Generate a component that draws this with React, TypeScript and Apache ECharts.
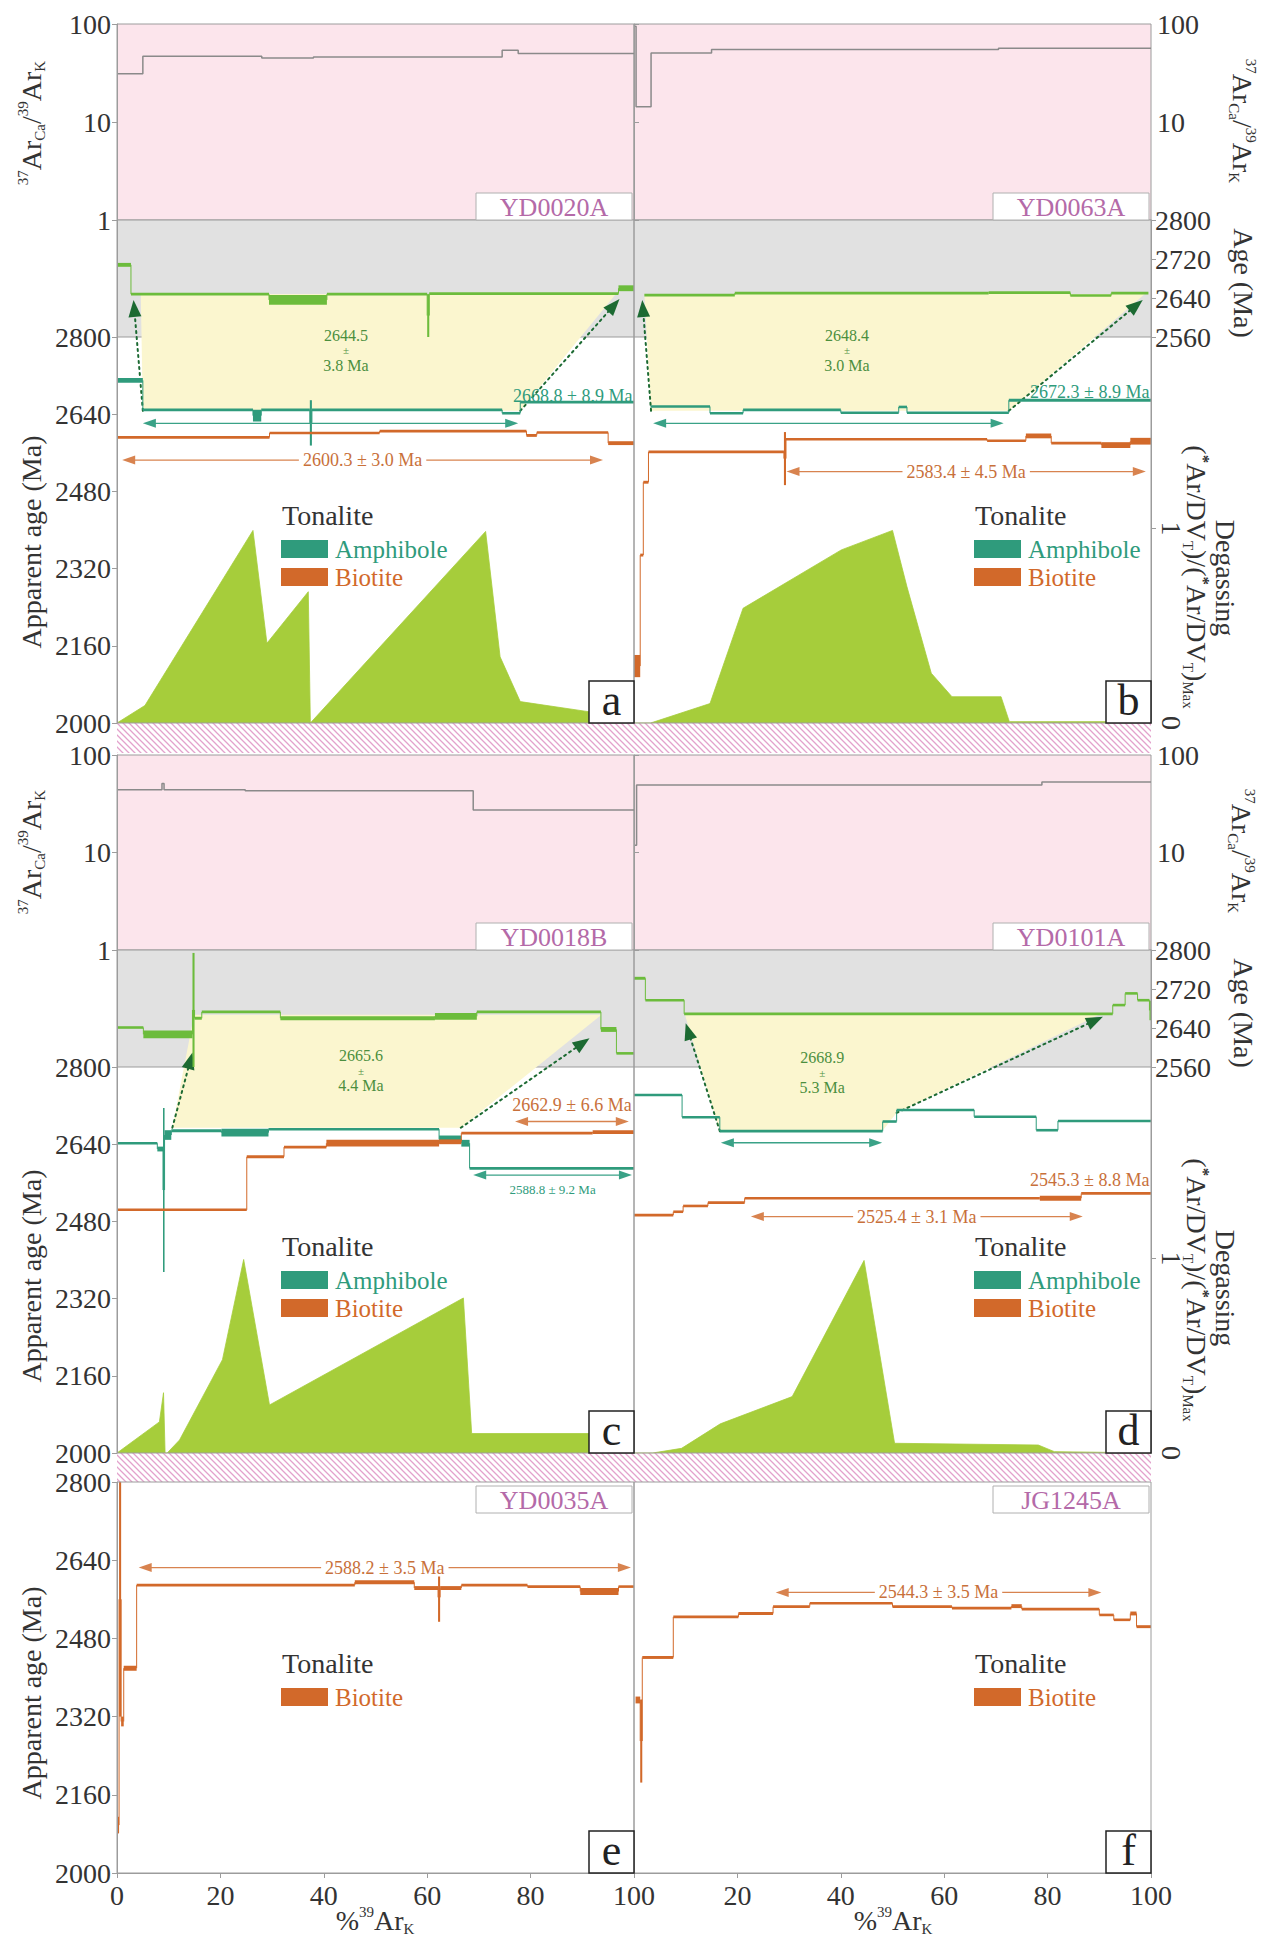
import React, { useEffect, useRef } from 'react';
import * as echarts from 'echarts';

// ---------------- DATA (x in %39ArK, ages in Ma) ----------------
// step arrays: [x0, x1, age, half-error]
const logA = [[0, 5, 31], [5, 28, 47], [28, 38, 45], [38, 74.5, 46], [74.5, 77.6, 54], [77.6, 100, 50]];
const insetA = [[0, 2.7, 2708, 4], [2.7, 29.4, 2648, 2], [29.4, 40.6, 2636, 10], [40.6, 60, 2648, 2], [60, 60.4, 2604, 44], [60.4, 97, 2649, 2], [97, 100, 2660, 6]];
const amphA = [[0, 5, 2710, 5], [5, 26.3, 2649, 2], [26.3, 27.9, 2637, 12], [27.9, 37.3, 2649, 2], [37.3, 37.7, 2622, 47], [37.7, 74.5, 2649, 2], [74.5, 78, 2642, 2], [78, 100, 2665, 3]];
const bioA = [[0, 29.5, 2592, 2], [29.5, 50.8, 2601, 2], [50.8, 79.2, 2605, 2], [79.2, 81.2, 2596, 3], [81.2, 95, 2602, 2], [95, 100, 2580, 4]];
const degA = [[0, 0], [5.4, 0.09], [26.3, 0.99], [29, 0.41], [37, 0.675], [37.4, 0], [71.3, 0.985], [74.1, 0.34], [78, 0.11], [91.5, 0.057], [100, 0.04]];
const arrowsA = [[5, 77.6, 2621, 'amph', '', ''], [1, 94, 2545, 'bio', '2600.3 ± 3.0 Ma', 'on']];
const labelsA = [[99.7, 2678, '2668.8 ± 8.9 Ma', 'amph']];
const plateauA = [44.3, 2773, '2644.5', '3.8 Ma'];
const trapTopA = [[4.6, 2648], [96.5, 2648]];
const trapBotA = [[78, 2647], [5, 2647]];
const trapTipA = [[3.2, 2636], [97.2, 2638]];

const logB = [[0, 0.4, 95], [0.4, 3.3, 14.3], [3.3, 15, 50.6], [15, 70.5, 55], [70.5, 100, 56.5]];
const insetB = [[2, 19.5, 2646, 2], [19.5, 68.6, 2650, 2], [68.6, 84.4, 2651, 2], [84.4, 92.3, 2645, 2], [92.3, 99.5, 2650, 2]];
const amphB = [[3.2, 14.7, 2656, 2], [14.7, 21.1, 2642, 2], [21.1, 40, 2649, 2], [40, 51.2, 2643, 2], [51.2, 52.8, 2655, 2], [52.8, 72.5, 2643, 2], [72.5, 100, 2669, 3]];
const bioB = [[0, 1.2, 2118, 23], [1.2, 1.8, 2348, 3], [1.8, 2.8, 2499, 3], [2.8, 29, 2562, 3], [29, 29.4, 2548, 55], [29.4, 68.3, 2588, 2], [68.3, 75.8, 2585, 2], [75.8, 80.7, 2595, 5], [80.7, 90.4, 2580, 2], [90.4, 96, 2576, 6], [96, 100, 2584, 7]];
const degB = [[0, 0], [3.2, 0], [14.7, 0.1], [21.1, 0.59], [40.1, 0.89], [50, 0.99], [52.8, 0.7], [57.5, 0.256], [61.5, 0.135], [71, 0.135], [72.6, 0.007], [100, 0.007]];
const arrowsB = [[3.7, 71.5, 2621, 'amph', '', ''], [29.5, 99, 2521, 'bio', '2583.4 ± 4.5 Ma', 'on']];
const labelsB = [[99.7, 2686, '2672.3 ± 8.9 Ma', 'amph']];
const plateauB = [41.2, 2773, '2648.4', '3.0 Ma'];
const trapTopB = [[2, 2648], [98.8, 2648]];
const trapBotB = [[72.5, 2647], [3.3, 2647]];
const trapTipB = [[1.6, 2636], [98.4, 2636]];

const logC = [[0, 8.7, 44], [8.7, 9.1, 51], [9.1, 24.8, 44], [24.8, 68.9, 43], [68.9, 100, 27.3]];
const insetC = [[0, 5.1, 2641, 1.5], [5.1, 14.6, 2627, 8], [14.6, 15, 2677, 117], [15, 16.4, 2660, 3], [16.4, 31.6, 2673, 2], [31.6, 61.5, 2660, 4], [61.5, 69.6, 2664, 7], [69.6, 93.6, 2673, 2], [93.6, 96.6, 2637, 5], [96.6, 100, 2588, 2]];
const amphC = [[0, 7.8, 2642, 2], [7.8, 8.9, 2630, 5], [8.9, 9.2, 2545, 170], [9.2, 10.5, 2659, 10], [10.5, 20.2, 2668, 3], [20.2, 29.3, 2664, 8], [29.3, 62.3, 2671, 2], [62.3, 66.6, 2650, 8], [66.6, 68.2, 2642, 7], [68.2, 100, 2590, 3]];
const bioC = [[0, 25.1, 2504, 2], [25.1, 32.3, 2614, 3], [32.3, 40.5, 2634, 2], [40.5, 62.3, 2642, 7], [62.3, 66.6, 2645, 5], [66.6, 92, 2663, 2], [92, 100, 2665, 4]];
const degC = [[0, 0], [8.2, 0.16], [9, 0.31], [9.3, 0], [9.7, 0], [12.1, 0.067], [20.4, 0.48], [24.5, 0.995], [29.5, 0.247], [67, 0.797], [68.6, 0.1], [91.5, 0.1], [100, 0.1]];
const arrowsC = [[68.9, 99.6, 2576, 'amph', '2588.8 ± 9.2 Ma', 'below'], [77, 99, 2687, 'bio', '2662.9 ± 6.6 Ma', 'above']];
const labelsC: any[] = [];
const plateauC = [47.2, 2792, '2665.6', '4.4 Ma'];
const trapTopC = [[14.9, 2667], [93.7, 2667]];
const trapBotC = [[66.5, 2674], [10.7, 2674]];
const trapTipC = [[14.6, 2590], [91.4, 2619]];

const logD = [[0, 0.5, 11.9], [0.5, 78.9, 49.2], [78.9, 100, 52.9]];
const insetD = [[0, 2.2, 2742, 3], [2.2, 9.7, 2697, 2], [9.7, 92.6, 2669, 2.5], [92.6, 95, 2687, 2], [95, 97.4, 2711, 2], [97.4, 99.7, 2697, 2], [99.7, 100, 2676, 20]];
const amphD = [[0, 9.3, 2742, 2], [9.3, 16.6, 2696, 2], [16.6, 48.1, 2667, 2.5], [48.1, 50.8, 2687, 2], [50.8, 65.8, 2711, 2], [65.8, 77.8, 2697, 2], [77.8, 82, 2669, 2], [82, 100, 2688, 2]];
const bioD = [[0, 7.6, 2493, 2], [7.6, 9.5, 2500, 2], [9.5, 14.3, 2512, 2], [14.3, 21.4, 2519, 2], [21.4, 78.5, 2528, 2], [78.5, 86.5, 2528, 5], [86.5, 100, 2538, 2]];
const degD = [[0, 0], [3.6, 0], [9.2, 0.024], [16.7, 0.15], [30.6, 0.29], [44.5, 0.99], [50.4, 0.05], [78.2, 0.041], [81.3, 0.007], [100, 0]];
const arrowsD = [[16.8, 48, 2643, 'amph', '', ''], [22.6, 86.8, 2490, 'bio', '2525.4 ± 3.1 Ma', 'on']];
const labelsD = [[99.7, 2566, '2545.3 ± 8.8 Ma', 'bio']];
const plateauD = [36.4, 2788, '2668.9', '5.3 Ma'];
const trapTopD = [[9.8, 2669], [90.3, 2669]];
const trapBotD = [[50.8, 2705], [48, 2667], [16.6, 2667]];
const trapTipD = [[10, 2650], [90.7, 2663]];

const bioE = [[0, 0.4, 2098, 17], [0.4, 0.8, 2560, 240], [0.8, 1.3, 2310, 10], [1.3, 3.8, 2419, 5], [3.8, 46, 2589, 2], [46, 57.5, 2595, 4], [57.5, 62.1, 2583, 4], [62.1, 62.5, 2564, 50], [62.5, 66.6, 2583, 4], [66.6, 79.4, 2589, 2], [79.4, 89.6, 2586, 2], [89.6, 97, 2576, 7], [97, 100, 2586, 2]];
const arrowsE = [[4.2, 99.4, 2625, 'bio', '2588.2 ± 3.5 Ma', 'on']];
const bioF = [[0.3, 1.2, 2354, 7], [1.2, 1.6, 2270, 85], [1.6, 7.6, 2441, 3], [7.6, 20.2, 2524, 2], [20.2, 26.9, 2531, 3], [26.9, 34, 2545, 2], [34, 50, 2552, 2], [50, 61.5, 2545, 2], [61.5, 73, 2542, 2], [73, 75, 2546, 4], [75, 90, 2540, 2], [90, 92.8, 2528, 2], [92.8, 96, 2518, 2], [96, 97.2, 2531, 4], [97.2, 100, 2504, 3]];
const arrowsF = [[27.4, 90.4, 2574, 'bio', '2544.3 ± 3.5 Ma', 'on']];

const ageTicks = [2000, 2160, 2320, 2480, 2640, 2800];
const insetTicks = [2560, 2640, 2720, 2800];
const degTicks = [0, 1];
const sampleNames = ['YD0020A', 'YD0063A', 'YD0018B', 'YD0101A', 'YD0035A', 'JG1245A'];
const panelLetters = ['a', 'b', 'c', 'd', 'e', 'f'];

// ---------------- STYLE / LAYOUT ----------------
const W = 1263, H = 1938;
const FONT = '"Liberation Serif", "Times New Roman", serif';
const C = {
  amph: '#2f9b7c', bio: '#d2692a', inset: '#6cbc3c', degas: '#a6cd3b', dark: '#1c6a32',
  yellow: '#fbf6cf', gray: '#e1e1e1', pink: '#fce5ec', frame: '#9c9c9c', logLine: '#8a8a8a',
  plateau: '#4b8f3e', sample: '#b46aa8', text: '#333333', bioArrow: '#d8834f', amphArrow: '#3aa287', hatch: '#e3a2cc',
};
const LAYOUT = {
  colX: [117, 634], colW: 517,
  rowLogTop: [24, 755], rowAgeTop: [220, 950],
  ageH: 503, insetH: 117, mainH: 386,
  row2Top: 1482, row2H: 391, degUnit: 194.5,
};
const MAIN_MAX = 2000 + (800 * LAYOUT.ageH) / LAYOUT.mainH;
const INSET_MIN = 2800 - (240 * LAYOUT.ageH) / LAYOUT.insetH;
const DEG_MAX = LAYOUT.ageH / LAYOUT.degUnit;
const insetToMain = (v: number) => 2000 + ((v - INSET_MIN) * (MAIN_MAX - 2000)) / (2800 - INSET_MIN);
const plain = (v: number) => String(Math.round(v * 1000) / 1000);

const TOP_PANELS = [
  { log: logA, inset: insetA, amph: amphA, bio: bioA, deg: degA, arrows: arrowsA, labels: labelsA, plateau: plateauA, tTop: trapTopA, tBot: trapBotA, tTip: trapTipA },
  { log: logB, inset: insetB, amph: amphB, bio: bioB, deg: degB, arrows: arrowsB, labels: labelsB, plateau: plateauB, tTop: trapTopB, tBot: trapBotB, tTip: trapTipB },
  { log: logC, inset: insetC, amph: amphC, bio: bioC, deg: degC, arrows: arrowsC, labels: labelsC, plateau: plateauC, tTop: trapTopC, tBot: trapBotC, tTip: trapTipC },
  { log: logD, inset: insetD, amph: amphD, bio: bioD, deg: degD, arrows: arrowsD, labels: labelsD, plateau: plateauD, tTop: trapTopD, tBot: trapBotD, tTip: trapTipD },
];
const BOTTOM_PANELS = [{ bio: bioE, arrows: arrowsE }, { bio: bioF, arrows: arrowsF }];

// ---------------- helpers ----------------
const txt = (extra: any) => ({ fontFamily: FONT, ...extra });
const centered = { align: 'center', verticalAlign: 'middle', textAlign: 'center', textVerticalAlign: 'middle' };

function stepSeries(steps: any[], xi: number, yi: number, color: string) {
  const data = steps.map((s, i) => [s[0], s[1], s[2], s[3] || 0, i > 0 ? steps[i - 1][2] : s[2]]);
  return {
    type: 'custom', xAxisIndex: xi, yAxisIndex: yi, z: 4, silent: true, data,
    renderItem: (params: any, api: any) => {
      const x0 = api.value(0), x1 = api.value(1), age = api.value(2), err = api.value(3), prev = api.value(4);
      const pT = api.coord([x0, age + err]);
      const pB = api.coord([x1, age - err]);
      const h = Math.max(pB[1] - pT[1], 2.6);
      const cy = (pT[1] + pB[1]) / 2;
      const w = Math.max(pB[0] - pT[0], 1.3);
      const children: any[] = [{ type: 'rect', shape: { x: pT[0], y: cy - h / 2, width: w, height: h }, style: { fill: color } }];
      if (prev !== age) {
        const a = api.coord([x0, prev]);
        children.push({ type: 'line', shape: { x1: a[0], y1: a[1], x2: a[0], y2: cy }, style: { stroke: color, lineWidth: 1 } });
      }
      return { type: 'group', children };
    },
  };
}

function arrowSeries(arrows: any[], xi: number, yi: number) {
  return {
    type: 'custom', xAxisIndex: xi, yAxisIndex: yi, z: 6, silent: true,
    data: arrows.map((a) => [a[0], a[2], a[1]]),
    renderItem: (params: any, api: any) => {
      const a = arrows[params.dataIndex];
      const p0 = api.coord([a[0], a[2]]);
      const p1 = api.coord([a[1], a[2]]);
      const color = a[3] === 'amph' ? C.amphArrow : C.bioArrow;
      const y = p0[1], hl = 13, hw = 4.5;
      const children: any[] = [
        { type: 'line', shape: { x1: p0[0] + hl - 1, y1: y, x2: p1[0] - hl + 1, y2: y }, style: { stroke: color, lineWidth: 1.3 } },
        { type: 'polygon', shape: { points: [[p0[0], y], [p0[0] + hl, y - hw], [p0[0] + hl, y + hw]] }, style: { fill: color } },
        { type: 'polygon', shape: { points: [[p1[0], y], [p1[0] - hl, y - hw], [p1[0] - hl, y + hw]] }, style: { fill: color } },
      ];
      if (a[4]) {
        const small = a[5] === 'below';
        const ty = a[5] === 'on' ? y : a[5] === 'above' ? y - 17 : y + 14;
        children.push({
          type: 'text', x: (p0[0] + p1[0]) / 2, y: ty, z2: 5,
          style: txt({
            text: a[4], fill: a[3] === 'amph' ? C.amph : '#c8703a', fontSize: small ? 13 : 18, ...centered,
            backgroundColor: a[5] === 'on' ? '#ffffff' : 'transparent', padding: [0, 4],
          }),
        });
      }
      return { type: 'group', children };
    },
  };
}

function labelSeries(labels: any[], xi: number, yi: number, plateau: any) {
  const all: any[] = labels.map((l) => ({ x: l[0], y: l[1], text: l[2], color: l[3] === 'amph' ? C.amph : '#c8703a' }));
  return {
    type: 'custom', xAxisIndex: xi, yAxisIndex: yi, z: 7, silent: true,
    data: [...all.map((l) => [l.x, l.y]), [plateau[0], plateau[1]]],
    renderItem: (params: any, api: any) => {
      const i = params.dataIndex;
      if (i < all.length) {
        const l = all[i];
        const p = api.coord([l.x, l.y]);
        return {
          type: 'text', x: p[0], y: p[1],
          style: txt({ text: l.text, fill: l.color, fontSize: 18, align: 'right', verticalAlign: 'middle', textAlign: 'right', textVerticalAlign: 'middle' }),
        };
      }
      const p = api.coord([plateau[0], plateau[1]]);
      return {
        type: 'group',
        children: [
          { type: 'text', x: p[0], y: p[1] - 15, style: txt({ text: plateau[2], fill: C.plateau, fontSize: 16, ...centered }) },
          { type: 'text', x: p[0], y: p[1], style: txt({ text: '±', fill: C.plateau, fontSize: 11, ...centered }) },
          { type: 'text', x: p[0], y: p[1] + 15, style: txt({ text: plateau[3], fill: C.plateau, fontSize: 16, ...centered }) },
        ],
      };
    },
  };
}

function head(from: number[], tip: number[], len: number, hw: number) {
  const dx = tip[0] - from[0], dy = tip[1] - from[1];
  const d = Math.hypot(dx, dy) || 1;
  const ux = dx / d, uy = dy / d;
  const bx = tip[0] - ux * len, by = tip[1] - uy * len;
  return { pts: [[tip[0], tip[1]], [bx - uy * hw, by + ux * hw], [bx + uy * hw, by - ux * hw]], base: [bx, by] };
}

function trapSeries(P: any, xi: number, yi: number) {
  return {
    type: 'custom', xAxisIndex: xi, yAxisIndex: yi, z: 2, silent: true, data: [[P.tTop[0][0], P.tBot[0][1]]],
    renderItem: (params: any, api: any) => {
      const top = P.tTop.map((p: number[]) => api.coord([p[0], insetToMain(p[1])]));
      const bot = P.tBot.map((p: number[]) => api.coord([p[0], p[1]]));
      const tipL = api.coord([P.tTip[0][0], insetToMain(P.tTip[0][1])]);
      const tipR = api.coord([P.tTip[1][0], insetToMain(P.tTip[1][1])]);
      const fromL = bot[bot.length - 1], fromR = bot[0];
      const hL = head(fromL, tipL, 17, 6.5), hR = head(fromR, tipR, 17, 6.5);
      const dash = { stroke: C.dark, lineWidth: 2, lineDash: [2, 4], lineCap: 'round' };
      return {
        type: 'group',
        children: [
          { type: 'polygon', shape: { points: [...top, ...bot] }, style: { fill: C.yellow } },
          { type: 'line', shape: { x1: fromL[0], y1: fromL[1], x2: hL.base[0], y2: hL.base[1] }, style: dash },
          { type: 'line', shape: { x1: fromR[0], y1: fromR[1], x2: hR.base[0], y2: hR.base[1] }, style: dash },
          { type: 'polygon', shape: { points: hL.pts }, style: { fill: C.dark }, z2: 10 },
          { type: 'polygon', shape: { points: hR.pts }, style: { fill: C.dark }, z2: 10 },
        ],
      };
    },
  };
}

function bandSeries(xi: number, yi: number) {
  return {
    type: 'custom', xAxisIndex: xi, yAxisIndex: yi, z: 1, silent: true, data: [[0, 2800]],
    renderItem: (params: any, api: any) => {
      const p0 = api.coord([0, MAIN_MAX]);
      const p1 = api.coord([100, 2800]);
      return {
        type: 'group',
        children: [
          { type: 'rect', shape: { x: p0[0], y: p0[1], width: p1[0] - p0[0], height: p1[1] - p0[1] }, style: { fill: C.gray } },
          { type: 'line', shape: { x1: p0[0], y1: p1[1], x2: p1[0], y2: p1[1] }, style: { stroke: C.frame, lineWidth: 1.2 } },
        ],
      };
    },
  };
}

function frameSeries(xi: number, yi: number, lo: number, hi: number) {
  return {
    type: 'custom', xAxisIndex: xi, yAxisIndex: yi, z: 10, silent: true, data: [[0, lo]],
    renderItem: (params: any, api: any) => {
      const p0 = api.coord([0, hi]);
      const p1 = api.coord([100, lo]);
      return { type: 'rect', shape: { x: p0[0], y: p0[1], width: p1[0] - p0[0], height: p1[1] - p0[1] }, style: { fill: 'none', stroke: C.frame, lineWidth: 1 } };
    },
  };
}

function logPoints(steps: number[][]) {
  const pts: number[][] = [];
  steps.forEach((s) => { pts.push([s[0], s[2]]); pts.push([s[1], s[2]]); });
  return pts;
}

function hatchURL() {
  const c = document.createElement('canvas');
  c.width = 6; c.height = 6;
  const g = c.getContext('2d');
  if (!g) return '';
  g.fillStyle = '#ffffff'; g.fillRect(0, 0, 6, 6);
  g.strokeStyle = C.hatch; g.lineWidth = 1.3;
  g.beginPath();
  g.moveTo(-1, -1); g.lineTo(7, 7);
  g.moveTo(-1, 5); g.lineTo(1, 7);
  g.moveTo(5, -1); g.lineTo(7, 1);
  g.stroke();
  return c.toDataURL();
}

const RICH = {
  n: { fontSize: 28, fontFamily: FONT, fill: C.text, color: C.text, lineHeight: 32 },
  sup: { fontSize: 15, fontFamily: FONT, fill: C.text, color: C.text, lineHeight: 14, verticalAlign: 'top' },
  sub: { fontSize: 15, fontFamily: FONT, fill: C.text, color: C.text, lineHeight: 14, verticalAlign: 'bottom' },
  st: { fontSize: 17, fontFamily: FONT, fill: C.text, color: C.text, fontWeight: 'bold', lineHeight: 14, verticalAlign: 'top' },
};

function vtext(x: number, y: number, text: string, up: boolean) {
  return {
    type: 'text', x, y, rotation: up ? Math.PI / 2 : -Math.PI / 2, z: 30,
    style: txt({ text, rich: RICH, fontSize: 28, fill: C.text, ...centered }),
  };
}

function buildOption() {
  const grid: any[] = [], xAxis: any[] = [], yAxis: any[] = [], series: any[] = [], graphic: any[] = [];
  const tickLabel = { fontSize: 28, fontFamily: FONT, color: C.text, formatter: plain };
  const ls = { color: C.frame, width: 1 };

  TOP_PANELS.forEach((P, p) => {
    const col = p % 2, row = Math.floor(p / 2);
    const left = LAYOUT.colX[col];
    const logTop = LAYOUT.rowLogTop[row], ageTop = LAYOUT.rowAgeTop[row];

    const gLog = grid.length;
    grid.push({ left, top: logTop, width: LAYOUT.colW, height: ageTop - logTop, show: true, backgroundColor: C.pink, borderColor: C.frame, borderWidth: 1 });
    const xLog = xAxis.length;
    xAxis.push({ gridIndex: gLog, type: 'value', min: 0, max: 100, show: false });
    const yLog = yAxis.length;
    yAxis.push({
      gridIndex: gLog, type: 'log', logBase: 10, min: 1, max: 100, position: col === 0 ? 'left' : 'right', z: 10,
      axisLine: { show: true, lineStyle: ls }, axisTick: { show: true, length: 5, lineStyle: ls },
      axisLabel: { ...tickLabel, margin: 6, formatter: (v: number) => (col === 1 && v === 1 ? '' : plain(v)) },
      splitLine: { show: false },
    });

    const gAge = grid.length;
    grid.push({ left, top: ageTop, width: LAYOUT.colW, height: LAYOUT.ageH, show: false });
    const xAge = xAxis.length;
    xAxis.push({ gridIndex: gAge, type: 'value', min: 0, max: 100, show: false });
    const yMain = yAxis.length;
    yAxis.push({
      gridIndex: gAge, type: 'value', min: 2000, max: MAIN_MAX, position: 'left', show: col === 0, z: 10,
      axisLine: { show: true, lineStyle: ls }, axisTick: { show: true, length: 5, customValues: ageTicks, lineStyle: ls },
      axisLabel: { ...tickLabel, margin: 6, customValues: ageTicks }, splitLine: { show: false },
    });
    const yInset = yAxis.length;
    yAxis.push({
      gridIndex: gAge, type: 'value', min: INSET_MIN, max: 2800, position: 'right', show: col === 1, z: 10,
      axisLine: { show: true, lineStyle: ls }, axisTick: { show: true, length: 5, customValues: insetTicks, lineStyle: ls },
      axisLabel: { ...tickLabel, margin: 4, customValues: insetTicks }, splitLine: { show: false },
    });
    const yDeg = yAxis.length;
    yAxis.push({
      gridIndex: gAge, type: 'value', min: 0, max: DEG_MAX, position: 'right', show: col === 1, z: 10,
      axisLine: { show: false }, axisTick: { show: true, length: 5, customValues: [1], lineStyle: ls },
      axisLabel: { ...tickLabel, margin: 6, rotate: -90, customValues: degTicks }, splitLine: { show: false },
    });

    series.push(bandSeries(xAge, yMain));
    series.push(trapSeries(P, xAge, yMain));
    series.push({
      type: 'line', xAxisIndex: xAge, yAxisIndex: yDeg, data: P.deg, symbol: 'none', z: 3, silent: true,
      lineStyle: { color: C.degas, width: 0.8 }, areaStyle: { color: C.degas, opacity: 1 },
    });
    series.push(stepSeries(P.inset, xAge, yInset, C.inset));
    series.push(stepSeries(P.amph, xAge, yMain, C.amph));
    series.push(stepSeries(P.bio, xAge, yMain, C.bio));
    series.push(arrowSeries(P.arrows, xAge, yMain));
    series.push(labelSeries(P.labels, xAge, yMain, P.plateau));
    series.push(frameSeries(xAge, yMain, 2000, MAIN_MAX));
    series.push({
      type: 'line', xAxisIndex: xLog, yAxisIndex: yLog, data: logPoints(P.log), symbol: 'none', z: 4, silent: true,
      lineStyle: { color: C.logLine, width: 1.5 },
    });
  });

  BOTTOM_PANELS.forEach((P, col) => {
    const left = LAYOUT.colX[col];
    const g = grid.length;
    grid.push({ left, top: LAYOUT.row2Top, width: LAYOUT.colW, height: LAYOUT.row2H, show: false });
    const xi = xAxis.length;
    xAxis.push({
      gridIndex: g, type: 'value', min: 0, max: 100, interval: 20, position: 'bottom', z: 10,
      axisLine: { show: true, lineStyle: ls }, axisTick: { show: true, length: 5, lineStyle: ls },
      axisLabel: { ...tickLabel, margin: 8, formatter: (v: number) => (col === 1 && v === 0 ? '' : plain(v)) },
      splitLine: { show: false },
    });
    const yi = yAxis.length;
    yAxis.push({
      gridIndex: g, type: 'value', min: 2000, max: 2800, interval: 160, position: 'left', show: col === 0, z: 10,
      axisLine: { show: true, lineStyle: ls }, axisTick: { show: true, length: 5, lineStyle: ls },
      axisLabel: { ...tickLabel, margin: 6 }, splitLine: { show: false },
    });
    series.push(stepSeries(P.bio, xi, yi, C.bio));
    series.push(arrowSeries(P.arrows, xi, yi));
    series.push(frameSeries(xi, yi, 2000, 2800));
  });

  // hatched separators
  const url = hatchURL();
  [[723, 30], [1453, 29]].forEach(([y, h]) => {
    graphic.push({
      type: 'rect', z: 0, shape: { x: LAYOUT.colX[0], y, width: LAYOUT.colW * 2, height: h },
      style: { fill: { image: url, repeat: 'repeat', imageWidth: 6, imageHeight: 6 } },
    });
  });

  // per-panel decorations
  const rowBottoms = [723, 1453, 1873];
  const sampleTops = [193, 923, 1486];
  const legendY = [515, 1246, 1663];
  for (let p = 0; p < 6; p++) {
    const col = p % 2, row = Math.floor(p / 2);
    const right = LAYOUT.colX[col] + LAYOUT.colW;
    graphic.push({ type: 'rect', z: 25, shape: { x: right - 158, y: sampleTops[row], width: 156, height: 27 }, style: { fill: '#ffffff', stroke: '#b0b0b0', lineWidth: 1 } });
    graphic.push({
      type: 'text', z: 26, x: right - 80, y: sampleTops[row] + 14,
      style: txt({ text: sampleNames[p], fill: C.sample, fontSize: 26, ...centered }),
    });
    graphic.push({ type: 'rect', z: 25, shape: { x: right - 45, y: rowBottoms[row] - 42, width: 45, height: 42 }, style: { fill: '#ffffff', stroke: '#222222', lineWidth: 1.5 } });
    graphic.push({
      type: 'text', z: 26, x: right - 22.5, y: rowBottoms[row] - 23,
      style: txt({ text: panelLetters[p], fill: '#222222', fontSize: 44, ...centered }),
    });
    const lx = col === 0 ? 282 : 975;
    const ly = legendY[row];
    graphic.push({ type: 'text', z: 26, x: lx, y: ly, style: txt({ text: 'Tonalite', fill: '#333333', fontSize: 28, align: 'left', verticalAlign: 'middle', textAlign: 'left', textVerticalAlign: 'middle' }) });
    const items = row < 2 ? [['Amphibole', C.amph], ['Biotite', C.bio]] : [['Biotite', C.bio]];
    items.forEach((it, k) => {
      const sy = ly + 25 + k * 28;
      graphic.push({ type: 'rect', z: 26, shape: { x: lx - 1, y: sy, width: 47, height: 18 }, style: { fill: it[1] } });
      graphic.push({ type: 'text', z: 26, x: lx + 53, y: sy + 9, style: txt({ text: it[0], fill: it[1], fontSize: 25, align: 'left', verticalAlign: 'middle', textAlign: 'left', textVerticalAlign: 'middle' }) });
    });
  }

  // axis titles
  const ratio = '{sup|37}{n|Ar}{sub|Ca}{n|/}{sup|39}{n|Ar}{sub|K}';
  graphic.push(vtext(31, 123, ratio, true));
  graphic.push(vtext(31, 852, ratio, true));
  graphic.push(vtext(1242, 121, ratio, false));
  graphic.push(vtext(1241, 851, ratio, false));
  graphic.push(vtext(31, 542, '{n|Apparent age (Ma)}', true));
  graphic.push(vtext(31, 1276, '{n|Apparent age (Ma)}', true));
  graphic.push(vtext(31, 1693, '{n|Apparent age (Ma)}', true));
  graphic.push(vtext(1243, 283, '{n|Age (Ma)}', false));
  graphic.push(vtext(1243, 1013, '{n|Age (Ma)}', false));
  const degLine = '{n|(}{st|*}{n|Ar/DV}{sub|T}{n|)/(}{st|*}{n|Ar/DV}{sub|T}{n|)}{sub|Max}';
  graphic.push(vtext(1225, 578, '{n|Degassing}', false));
  graphic.push(vtext(1196, 577, degLine, false));
  graphic.push(vtext(1225, 1288, '{n|Degassing}', false));
  graphic.push(vtext(1196, 1290, degLine, false));
  [375, 893].forEach((x) => {
    graphic.push({
      type: 'text', z: 30, x, y: 1920,
      style: txt({ text: '{n|%}{sup|39}{n|Ar}{sub|K}', rich: RICH, fontSize: 28, fill: C.text, ...centered }),
    });
  });

  return { animation: false, backgroundColor: '#ffffff', grid, xAxis, yAxis, series, graphic };
}

export default function App() {
  const ref = useRef<HTMLDivElement>(null);
  useEffect(() => {
    const el = ref.current;
    if (!el) return;
    const chart = echarts.init(el, null, { renderer: 'svg', width: W, height: H });
    chart.setOption(buildOption() as any);
    return () => chart.dispose();
  }, []);
  return <div ref={ref} style={{ position: 'absolute', left: 0, top: 0, width: W, height: H, background: '#fff' }} />;
}
